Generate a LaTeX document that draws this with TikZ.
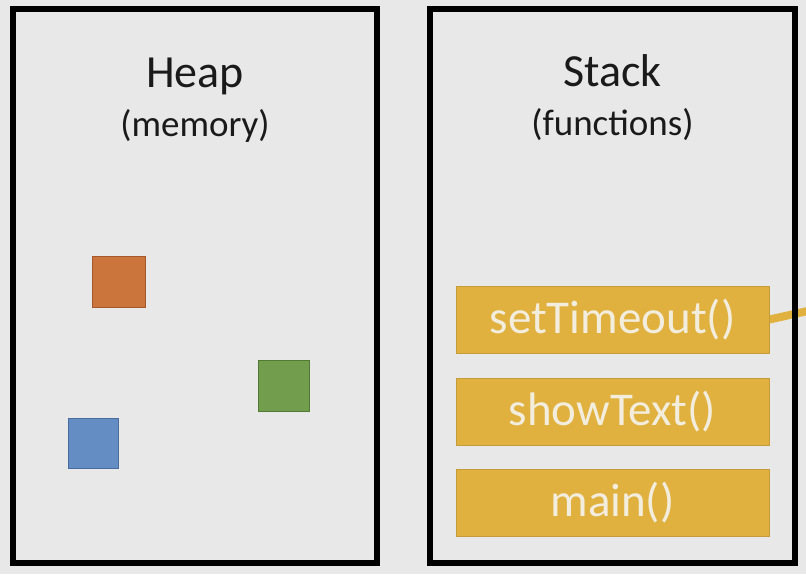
\documentclass[tikz,border=0pt]{standalone}
\usepackage{fontspec}
\setmainfont{Carlito}
\usepackage{tikz}
\usetikzlibrary{positioning}

\definecolor{bgGray}{RGB}{231,232,231}
\definecolor{frameGold}{RGB}{224,177,62}
\definecolor{frameEdge}{RGB}{198,156,58}
\definecolor{frameText}{RGB}{243,237,222}
\definecolor{objOrange}{RGB}{203,116,60}
\definecolor{objOrangeEdge}{RGB}{165,88,42}
\definecolor{objGreen}{RGB}{114,157,77}
\definecolor{objGreenEdge}{RGB}{82,122,52}
\definecolor{objBlue}{RGB}{100,141,196}
\definecolor{objBlueEdge}{RGB}{72,108,158}
\definecolor{titleGray}{RGB}{26,26,26}

\pgfdeclarelayer{back}
\pgfsetlayers{back,main}

\begin{document}
\begin{tikzpicture}[
    x=1pt, y=-1pt,
    area/.style={draw=black, line width=6pt, minimum width=364pt, minimum height=554pt, inner sep=0pt},
    title/.style={anchor=base, text=titleGray, font=\fontsize{46}{50}\selectfont},
    subtitle/.style={anchor=base, text=titleGray, font=\fontsize{37}{40}\selectfont},
    frame/.style={draw=frameEdge, fill=frameGold, line width=1pt, minimum width=313pt, minimum height=67pt,
        inner sep=0pt, text=frameText, font=\fontsize{47}{50}\selectfont},
    object/.style={line width=1.5pt, inner sep=0pt}
]
    % Background
    \begin{pgfonlayer}{back}
        \fill[bgGray] (0, 0) rectangle (806, 574);
    \end{pgfonlayer}
    \useasboundingbox (0, 0) rectangle (806, 574);

    % === Heap ===
    \node[area] (heap) at (195, 286) {};
    \node[title] (heapTitle) at (195, 87) {Heap};
    \node[subtitle] (heapSub) at (195, 136) {(memory)};

    % Objects in memory
    \node[object, draw=objOrangeEdge, fill=objOrange, minimum width=53pt, minimum height=51pt] (objA) at (119, 282) {};
    \node[object, draw=objGreenEdge, fill=objGreen, minimum width=51pt, minimum height=51pt] (objB) at (284, 386) {};
    \node[object, draw=objBlueEdge, fill=objBlue, minimum width=50pt, minimum height=50pt] (objC) at (93.5, 443.5) {};

    % === Stack ===
    \node[area, minimum width=365pt] (stack) at (612.5, 286) {};
    \node[title] (stackTitle) at (612.5, 86) {Stack};
    \node[subtitle] (stackSub) at (612.5, 135) {(functions)};

    % Call frames
    \node[frame] (setTimeout) at (612.5, 319.5) {setTimeout()};
    \node[frame] (showText) at (612.5, 411.5) {showText()};
    \node[frame] (main) at (612.5, 502.5) {main()};

    % Link leaving the stack
    \coordinate (away) at (812, 310);
    \begin{pgfonlayer}{back}
        \draw[frameGold, line width=8pt] (setTimeout.east) -- (away);
    \end{pgfonlayer}

\end{tikzpicture}
\end{document}
